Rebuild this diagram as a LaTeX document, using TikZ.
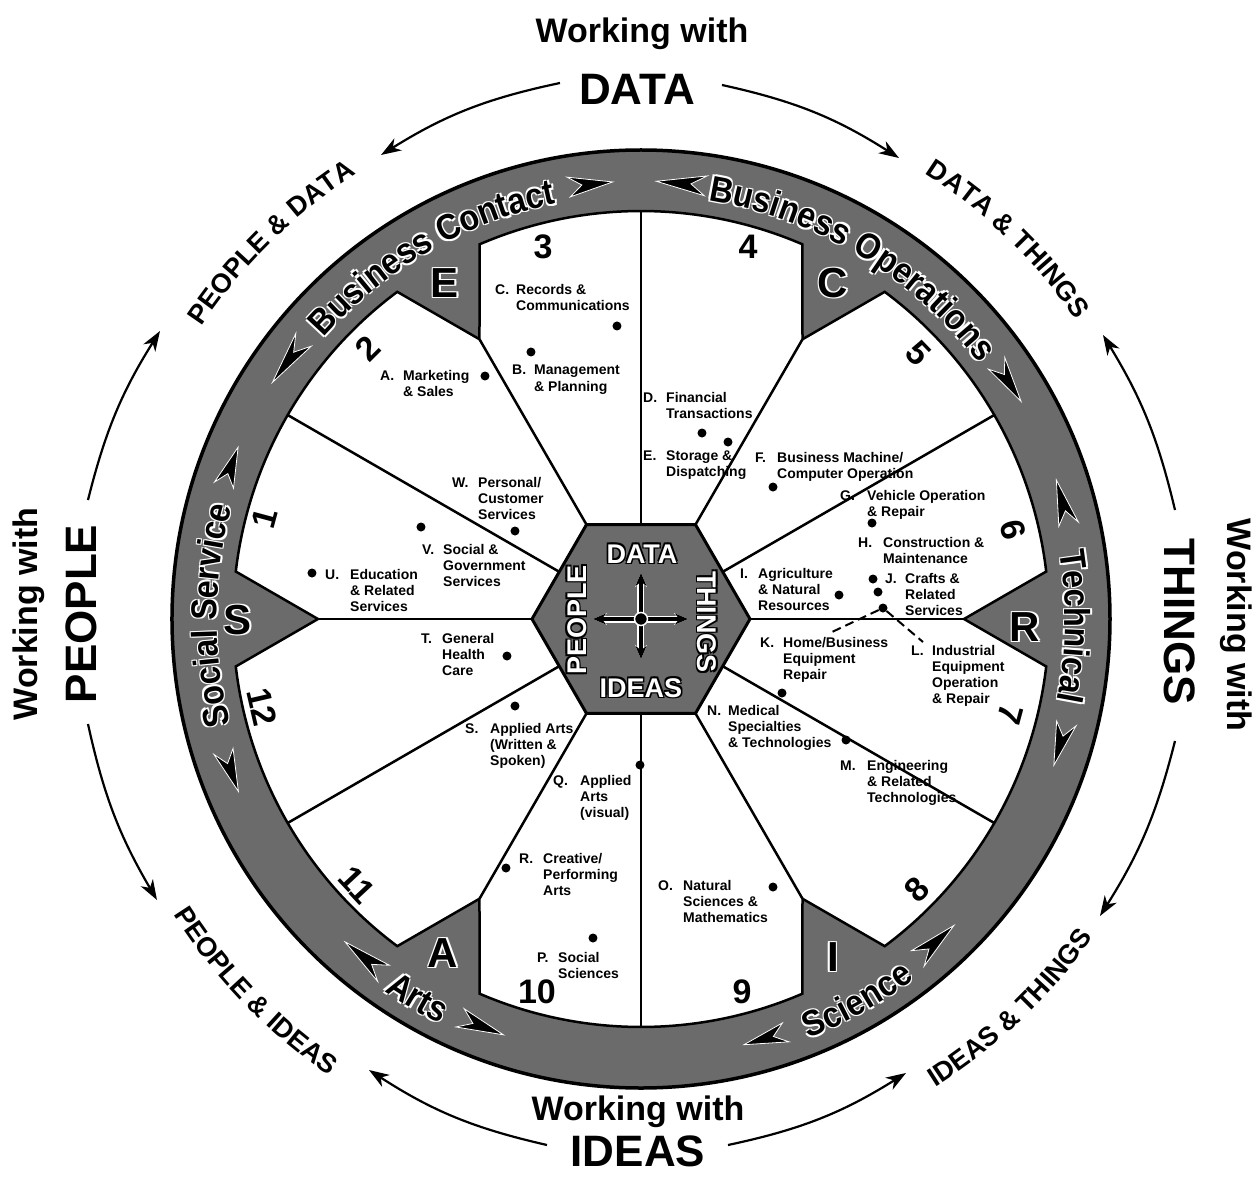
\documentclass[tikz,border=0pt]{standalone}
\usepackage{fontspec}
\setmainfont{Liberation Sans}
\newfontfamily\ringfam[FakeStretch=0.9]{Liberation Sans}
\usetikzlibrary{decorations.text,arrows.meta,calc}
\definecolor{ringgray}{gray}{0.42}
\definecolor{hexgray}{gray}{0.42}
\newcommand\fsz[1]{\fontsize{#1}{#1}\selectfont}
\newcommand\ringfont{\ringfam\bfseries\fsz{36}}
\newcommand\outfont{\bfseries\fsz{27}}
\tikzset{
  spoke/.style={line width=2.5pt,black},
  lbl/.style={font=\bfseries\fontsize{14}{16}\selectfont,inner sep=0pt},
  num/.style={font=\bfseries\fsz{34},inner sep=0pt},
  dotn/.style={circle,fill=black,inner sep=0pt,minimum size=9pt},
  oarrow/.style={line width=2.2pt,-{Stealth[length=20pt,width=14pt,inset=6pt]}},
  rarrow/.style={fill=black,draw=white,line width=0.8pt},
  bigword/.style={font=\bfseries\fsz{44},inner sep=0pt},
  workw/.style={font=\bfseries\fsz{34},inner sep=0pt},
}
% label: name, x, ytop, letter, text x, lines
\newcommand\lab[6]{%
  \node[lbl,anchor=base west] (#1) at (#2,#3+10) {#4};
  \node[lbl,anchor=base west] (#1t) at (#5,#3+10) {\begin{tabular}[t]{@{}l@{}}#6\end{tabular}};}
% halo text: name, position, options, halo colour, text colour, text
\newcommand\halo[6]{%
  \foreach \hx/\hy in {1.4/1.4,-1.4/1.4,1.4/-1.4,-1.4/-1.4}{%
    \node[#3,text=#4] at ($#2+(\hx,\hy)$) {#6};}%
  \node[#3,text=#5] (#1) at #2 {#6};}
% ring text: start angle, end angle, radius, text
\newcommand\ringtext[4]{%
  \foreach \hx/\hy in {1.3/1.3,-1.3/1.3,1.3/-1.3,-1.3/-1.3}{%
    \path[decorate,decoration={text along path,text align=center,text={|\color{white}\ringfont|#4}}]
      ($(#1:#3)+(\hx,\hy)$) arc[start angle=#1,end angle=#2,radius=#3];}%
  \path[decorate,decoration={text along path,text align=center,text={|\color{black}\ringfont|#4}}]
    (#1:#3) arc[start angle=#1,end angle=#2,radius=#3];}
% ring arrow: tip angle, base angle
\newcommand\rarr[2]{%
  \filldraw[rarrow] (#1:438) -- (#2:428) -- ({#2+0.3*(#1-#2)}:438) -- (#2:448) -- cycle;}
% outer label along arc: start, end, radius, text
\newcommand\outtext[4]{%
  \path[decorate,decoration={text along path,text align=center,text={|\outfont|#4}}]
    (#1:#3) arc[start angle=#1,end angle=#2,radius=#3];}

\begin{document}
\begin{tikzpicture}[x=1pt,y=1pt]
\useasboundingbox (-641,-557) rectangle (612,619);
\fill[white] (-641,-557) rectangle (612,619);

% ---- ring and white interior with teeth
\fill[ringgray] (0,0) circle (469);
\path[fill=white,draw=black,line width=2.5pt] (6.684:408)
  \foreach \a in {0,60,...,300}{ arc[start angle=\a+6.684,end angle=\a+53.316,radius=408]
  -- (\a+60:323) -- (\a+66.684:408)} -- cycle;
\draw[line width=3.5pt] (0,0) circle (469);

% ---- spokes
\foreach \a in {0,60,...,300} \draw[spoke] (\a:100) -- (\a:323);
\foreach \a in {30,90,...,330} \draw[spoke] (\a:90) -- (\a:408);

% ---- hexagon
\draw[fill=hexgray,line width=3pt] (0:109) -- (60:109) -- (120:109) -- (180:109)
  -- (240:109) -- (300:109) -- cycle;
\foreach \ang/\len in {90/46,270/40,180/48,0/47}{
  \draw[line width=7pt,white,-{Stealth[length=14pt,width=12pt]}] (\ang:6) -- (\ang:\len);
  \draw[line width=3.5pt,black,-{Stealth[length=13pt,width=11pt]}] (\ang:6) -- (\ang:\len);}
\filldraw[fill=black,draw=white,line width=1.5pt] (0,0) circle (6.5);
\halo{hD}{(1,65)}{font=\bfseries\fsz{27},inner sep=0pt}{black}{white}{DATA}
\halo{hI}{(0,-69)}{font=\bfseries\fsz{27},inner sep=0pt}{black}{white}{IDEAS}
\halo{hP}{(-64,-1)}{font=\bfseries\fsz{27},inner sep=0pt,rotate=90}{black}{white}{PEOPLE}
\halo{hT}{(66,-3)}{font=\bfseries\fsz{27},inner sep=0pt,rotate=-90}{black}{white}{THINGS}

% ---- ring texts and arrows
\ringtext{145}{95}{424}{Business Contact}
\ringtext{85}{33}{424}{Business Operations}
\ringtext{16}{-18}{424}{Technical}
\ringtext{-77}{-44}{452}{Science}
\ringtext{228}{251}{452}{Arts}
\ringtext{202}{157}{424}{Social Service}
\rarr{147.3}{140.4}
\rarr{93.7}{99.5}
\rarr{88.0}{81.5}
\rarr{29.8}{35.7}
\rarr{18.5}{12.5}
\rarr{-19.5}{-13.8}
\rarr{-76.4}{-70.7}
\rarr{-44.4}{-50.8}
\rarr{227.5}{234.0}
\rarr{251.7}{245.6}
\rarr{156.9}{162.2}
\rarr{203.2}{197.6}

% ---- tooth letters
\halo{kE}{(-196,336)}{font=\bfseries\fsz{42},inner sep=0pt}{white}{black}{E}
\halo{kC}{(192,336)}{font=\bfseries\fsz{42},inner sep=0pt}{white}{black}{C}
\halo{kR}{(384,-8)}{font=\bfseries\fsz{42},inner sep=0pt}{white}{black}{R}
\halo{kS}{(-403,-1)}{font=\bfseries\fsz{42},inner sep=0pt}{white}{black}{S}
\halo{kA}{(-198,-334)}{font=\bfseries\fsz{42},inner sep=0pt}{white}{black}{A}
\halo{kI}{(192,-338)}{font=\bfseries\fsz{42},inner sep=0pt}{white}{black}{I}

% ---- outer curved labels
\outtext{150}{119}{528}{PEOPLE {\&} DATA}
\outtext{62}{30}{528}{DATA {\&} THINGS}
\outtext{-62}{-31}{553}{IDEAS {\&} THINGS}
\outtext{208}{240}{553}{PEOPLE {\&} IDEAS}

% ---- outer arrows
\coordinate (aTL1) at (-81,536);  \coordinate (aTL2) at (-260,464);
\coordinate (aTR1) at (81,534);   \coordinate (aTR2) at (258,461);
\coordinate (aBL1) at (-94,-526); \coordinate (aBL2) at (-272,-451);
\coordinate (aBR1) at (87,-526);  \coordinate (aBR2) at (265,-454);
\coordinate (aLT1) at (-553,119); \coordinate (aLT2) at (-481,288);
\coordinate (aLB1) at (-553,-105);\coordinate (aLB2) at (-484,-281);
\coordinate (aRT1) at (534,109);  \coordinate (aRT2) at (462,284);
\coordinate (aRB1) at (534,-122); \coordinate (aRB2) at (459,-297);
\draw[oarrow] (aTL1) to[bend right=10] (aTL2);
\draw[oarrow] (aTR1) to[bend left=10] (aTR2);
\draw[oarrow] (aBL1) to[bend left=10] (aBL2);
\draw[oarrow] (aBR1) to[bend right=10] (aBR2);
\draw[oarrow] (aLT1) to[bend left=9] (aLT2);
\draw[oarrow] (aLB1) to[bend right=9] (aLB2);
\draw[oarrow] (aRT1) to[bend right=9] (aRT2);
\draw[oarrow] (aRB1) to[bend left=9] (aRB2);

% ---- everything placed in image coordinates
\begin{scope}[shift={(-641,619)},y=-1pt]
\node[workw] (wD) at (642,34) {Working with};
\node[bigword] (tD) at (637,89) {DATA};
\node[workw] (wI) at (638,1112) {Working with};
\node[bigword] (tI) at (638,1151) {IDEAS};
\node[workw,rotate=90] (wP) at (29,614) {Working with};
\node[bigword,rotate=90] (tP) at (81,614) {PEOPLE};
\node[workw,rotate=-90] (wT) at (1236,625) {Working with};
\node[bigword,rotate=-90] (tT) at (1180,622) {THINGS};

% sector numbers
\node[num,rotate=75]   (n1)  at (265,518) {1};
\node[num,rotate=45]   (n2)  at (368,348) {2};
\node[num]             (n3)  at (543,247) {3};
\node[num]             (n4)  at (748,247) {4};
\node[num,rotate=-46]  (n5)  at (918,353) {5};
\node[num,rotate=-76]  (n6)  at (1013,530) {6};
\node[num,rotate=-105] (n7)  at (1010,715) {7};
\node[num,rotate=45]   (n8)  at (917,890) {8};
\node[num]             (n9)  at (742,992) {9};
\node[num]             (n10) at (537,992) {10};
\node[num,rotate=-47]  (n11) at (357,885) {11};
\node[num,rotate=-77]  (n12) at (262,707) {12};

% labels
\lab{lA}{380}{370}{A.}{403}{Marketing\\\& Sales}
\lab{lB}{512}{365}{B.}{534}{Management\\\& Planning}
\lab{lC}{495}{285}{C.}{516}{Records \&\\Communications}
\lab{lD}{643}{392}{D.}{666}{Financial\\Transactions}
\lab{lE}{643}{450}{E.}{666}{Storage \&\\Dispatching}
\lab{lF}{755}{452}{F.}{777}{Business Machine/\\Computer Operation}
\lab{lG}{840}{490}{G.}{867}{Vehicle Operation\\\& Repair}
\lab{lH}{858}{537}{H.}{883}{Construction \&\\Maintenance}
\lab{lI}{740}{568}{I.}{758}{Agriculture\\\& Natural\\Resources}
\lab{lJ}{885}{573}{J.}{905}{Crafts \&\\Related\\Services}
\lab{lK}{760}{637}{K.}{783}{Home/Business\\Equipment\\Repair}
\lab{lL}{911}{645}{L.}{932}{Industrial\\Equipment\\Operation\\\& Repair}
\lab{lM}{840}{760}{M.}{867}{Engineering\\\& Related\\Technologies}
\lab{lN}{707}{705}{N.}{728}{Medical\\Specialties\\\& Technologies}
\lab{lO}{658}{880}{O.}{683}{Natural\\Sciences \&\\Mathematics}
\lab{lP}{537}{952}{P.}{558}{Social\\Sciences}
\lab{lQ}{553}{775}{Q.}{580}{Applied\\Arts\\(visual)}
\lab{lR}{519}{853}{R.}{543}{Creative/\\Performing\\Arts}
\lab{lS}{465}{723}{S.}{490}{Applied Arts\\(Written \&\\Spoken)}
\lab{lT}{421}{633}{T.}{442}{General\\Health\\Care}
\lab{lU}{325}{569}{U.}{350}{Education\\\& Related\\Services}
\lab{lV}{422}{544}{V.}{443}{Social \&\\Government\\Services}
\lab{lW}{452}{477}{W.}{478}{Personal/\\Customer\\Services}

% dots
\node[dotn] (dA) at (485,376) {};
\node[dotn] (dB) at (531,352) {};
\node[dotn] (dC) at (617,326) {};
\node[dotn] (dD) at (702,433) {};
\node[dotn] (dE) at (728,442) {};
\node[dotn] (dF) at (773,487) {};
\node[dotn] (dG) at (872,523) {};
\node[dotn] (dH) at (873,579) {};
\node[dotn] (dJ) at (878,592) {};
\node[dotn] (dKL) at (883,608) {};
\node[dotn] (dI) at (839,595) {};
\node[dotn] (dN) at (782,693) {};
\node[dotn] (dM) at (846,740) {};
\node[dotn] (dO) at (773,887) {};
\node[dotn] (dP) at (593,938) {};
\node[dotn] (dQ) at (640,765) {};
\node[dotn] (dR) at (506,868) {};
\node[dotn] (dS) at (515,706) {};
\node[dotn] (dT) at (507,656) {};
\node[dotn] (dU) at (312,573) {};
\node[dotn] (dV) at (421,527) {};
\node[dotn] (dW) at (515,531) {};
\coordinate (kEnd) at (832,632);
\coordinate (lEnd) at (923,642);
\draw[line width=2pt,dash pattern=on 9pt off 5pt] (dKL) -- (kEnd);
\draw[line width=2pt,dash pattern=on 9pt off 5pt] (dKL) -- (lEnd);
\end{scope}
\end{tikzpicture}
\end{document}
